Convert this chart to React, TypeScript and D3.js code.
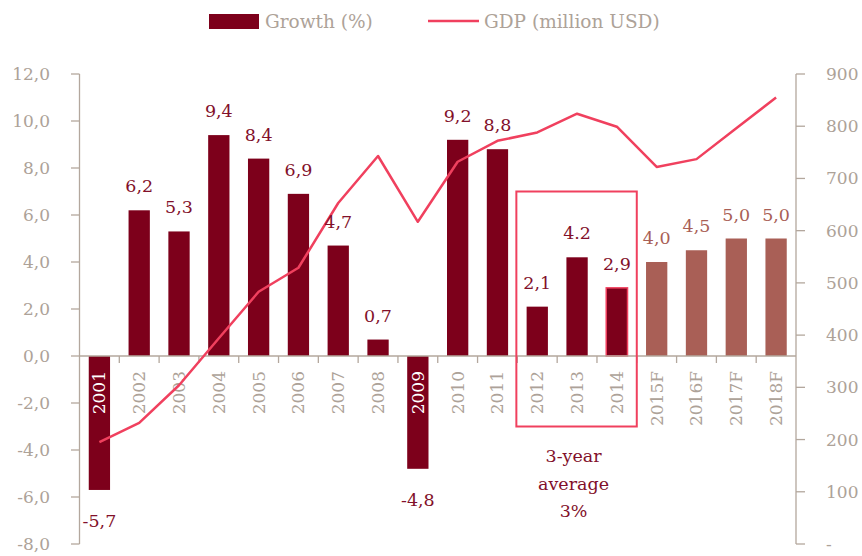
import React from 'react';
import * as d3 from 'd3';

const categories = ['2001','2002','2003','2004','2005','2006','2007','2008','2009','2010','2011','2012','2013','2014','2015F','2016F','2017F','2018F'];
const growth = [-5.7, 6.2, 5.3, 9.4, 8.4, 6.9, 4.7, 0.7, -4.8, 9.2, 8.8, 2.1, 4.2, 2.9, 4.0, 4.5, 5.0, 5.0];
const growthLabels = ['-5,7','6,2','5,3','9,4','8,4','6,9','4,7','0,7','-4,8','9,2','8,8','2,1','4.2','2,9','4,0','4,5','5,0','5,0'];
const gdp = [195, 232, 304, 394, 483, 529, 653, 743, 617, 732, 772, 788, 824, 799, 722, 737, 796, 855];
const leftTicks = [-8, -6, -4, -2, 0, 2, 4, 6, 8, 10, 12];
const rightTicks = [0, 100, 200, 300, 400, 500, 600, 700, 800, 900];
const highlightCats = ['2012', '2013', '2014'];
const outlinedCat = '2014';
const whiteLabelCats = ['2001', '2009'];
const annotationLines = ['3-year', 'average', '3%'];
const legendLabels = ['Growth (%)', 'GDP (million USD)'];

const FONT = "'DejaVu Serif', serif";
const C_BAR = '#7D001B';
const C_FC = '#A95F56';
const C_LINE = '#F0405E';
const C_AXIS = '#B3A79D';
const C_TEXT = '#ADA298';
const C_LABEL = '#82102A';

export default function App() {
  const W = 862, H = 556;
  const x = d3.scaleBand<string>().domain(categories).range([79.5, 796]).paddingInner(0.465).paddingOuter(0.2325);
  const yL = d3.scaleLinear().domain([-8, 12]).range([544, 74]);
  const yR = d3.scaleLinear().domain([0, 900]).range([544, 74]);
  const bw = x.bandwidth();
  const step = x.step();
  const cx = (c: string) => (x(c) as number) + bw / 2;
  const line = d3.line<number>().x((_, i) => cx(categories[i])).y(d => yR(d));
  const y0 = yL(0);
  const fmtL = (v: number) => d3.format('.1f')(v).replace('.', ',').replace('−', '-');
  const boxX0 = (x(highlightCats[0]) as number) - step * 0.2325 - 1;
  const boxX1 = (x(highlightCats[highlightCats.length - 1]) as number) + bw + step * 0.2325;
  const boxCx = (boxX0 + boxX1) / 2;

  return (
    <svg width={W} height={H} style={{ position: 'absolute', left: 0, top: 0, background: '#fff' }} fontFamily={FONT}>
      {/* legend */}
      <rect x={209} y={14} width={50} height={15} fill={C_BAR} />
      <text x={265} y={28} fontSize={18.5} fill={C_TEXT}>{legendLabels[0]}</text>
      <line x1={428} x2={479} y1={21} y2={21} stroke={C_LINE} strokeWidth={2.5} />
      <text x={484} y={28} fontSize={18.5} fill={C_TEXT}>{legendLabels[1]}</text>

      {/* left axis */}
      <line x1={79.5} x2={79.5} y1={yL(12)} y2={yL(-8)} stroke={C_AXIS} strokeWidth={1.3} />
      {leftTicks.map(t => (
        <g key={'l' + t}>
          <line x1={71} x2={79.5} y1={yL(t)} y2={yL(t)} stroke={C_AXIS} strokeWidth={1.3} />
          <text x={50} y={yL(t)} dy="0.35em" textAnchor="end" fontSize={17} fill={C_TEXT}>{fmtL(t)}</text>
        </g>
      ))}

      {/* right axis */}
      <line x1={796} x2={796} y1={yR(900)} y2={yR(0)} stroke={C_AXIS} strokeWidth={1.3} />
      {rightTicks.map(t => (
        <g key={'r' + t}>
          <line x1={796} x2={805} y1={yR(t)} y2={yR(t)} stroke={C_AXIS} strokeWidth={1.3} />
          <text x={826} y={yR(t)} dy="0.35em" textAnchor="start" fontSize={17} fill={C_TEXT}>{t === 0 ? '-' : String(t)}</text>
        </g>
      ))}

      {/* bars */}
      {categories.map((c, i) => {
        const v = growth[i];
        const fc = c.endsWith('F');
        return (
          <rect key={'b' + c} x={x(c)} width={bw} y={Math.min(yL(v), y0)} height={Math.abs(yL(v) - y0)}
            fill={fc ? C_FC : C_BAR}
            stroke={c === outlinedCat ? C_LINE : 'none'} strokeWidth={c === outlinedCat ? 1.5 : 0} />
        );
      })}

      {/* x axis */}
      <line x1={79.5} x2={796} y1={y0} y2={y0} stroke={C_AXIS} strokeWidth={1.3} />
      {categories.slice(1).map(c => {
        const bx = (x(c) as number) - step * 0.2325;
        return <line key={'t' + c} x1={bx} x2={bx} y1={y0} y2={y0 + 7} stroke={C_AXIS} strokeWidth={1.3} />;
      })}
      {categories.map(c => (
        <text key={'xl' + c} transform={`translate(${cx(c) + 6},${y0 + 15}) rotate(-90)`} textAnchor="end"
          fontSize={17} fill={whiteLabelCats.includes(c) ? '#ffffff' : C_TEXT}>{c}</text>
      ))}

      {/* GDP line */}
      <path d={line(gdp) || ''} fill="none" stroke={C_LINE} strokeWidth={2.5} strokeLinejoin="round" />

      {/* data labels */}
      {categories.map((c, i) => {
        const v = growth[i];
        const fc = c.endsWith('F');
        const yy = v >= 0 ? yL(v) - 18 : yL(v) + 37;
        return (
          <text key={'dl' + c} x={cx(c)} y={yy} textAnchor="middle" fontSize={17.5} fill={fc ? C_FC : C_LABEL}>{growthLabels[i]}</text>
        );
      })}

      {/* highlight box */}
      <rect x={boxX0} y={yL(7)} width={boxX1 - boxX0} height={yL(-3) - yL(7)} fill="none" stroke={C_LINE} strokeWidth={2} />
      {annotationLines.map((t, i) => (
        <text key={'a' + i} x={boxCx - 3} y={462 + i * 27.5} textAnchor="middle" fontSize={17.5} fill={C_LABEL}>{t}</text>
      ))}
    </svg>
  );
}
